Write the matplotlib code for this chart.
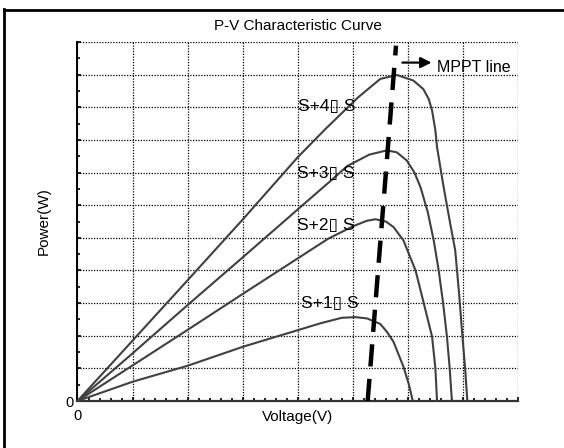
import matplotlib.pyplot as plt
from matplotlib.lines import Line2D
from matplotlib.ticker import MultipleLocator

plt.rcParams["font.family"] = ["Liberation Sans", "DejaVu Sans"]

# P-V curves for four irradiance steps (voltage / power in grid units)
v_s1 = [0, 1, 2, 3, 4, 4.41, 4.8, 5.05, 5.26, 5.5, 5.62, 5.74, 5.92, 6.02, 6.09]
p_s1 = [0, 0.59, 1.08, 1.66, 2.17, 2.38, 2.55, 2.57, 2.53, 2.36, 2.12, 1.81, 1.05, 0.5, 0]

v_s2 = [0, 1, 2, 3, 4, 4.55, 5.0, 5.25, 5.41, 5.6, 5.74, 5.92, 6.14, 6.29, 6.44, 6.5, 6.53]
p_s2 = [0, 1.09, 2.18, 3.28, 4.37, 4.97, 5.35, 5.52, 5.57, 5.5, 5.33, 4.92, 4.0, 2.99, 1.97, 1.0, 0]

v_s3 = [0, 1, 2, 3, 4.19, 4.6, 4.9, 5.3, 5.62, 5.8, 5.98, 6.12, 6.23, 6.36, 6.47, 6.56, 6.64, 6.71, 6.76, 6.8]
p_s3 = [0, 1.46, 2.94, 4.4, 6.15, 6.75, 7.2, 7.55, 7.68, 7.62, 7.37, 7.0, 6.55, 5.8, 4.92, 4.0, 3.0, 1.97, 1.0, 0]

v_s4 = [0, 1, 2, 3, 4, 4.5, 5.1, 5.5, 5.8, 6.1, 6.28, 6.38, 6.44, 6.5, 6.53, 6.65, 6.77, 6.86, 6.93, 6.99, 7.04, 7.08]
p_s4 = [0, 1.85, 3.7, 5.56, 7.47, 8.33, 9.31, 9.87, 9.99, 9.82, 9.56, 9.25, 8.9, 8.29, 7.78, 6.55, 5.43, 4.62, 3.3, 2.0, 1.0, 0]

curve_labels = ["S+1\u25af S", "S+2\u25af S", "S+3\u25af S", "S+4\u25af S"]
label_x = [4.06, 3.99, 3.99, 4.0]
label_y = [2.99, 5.38, 6.96, 9.02]

# MPPT line end points
mppt_v = [5.27, 5.785]
mppt_p = [0, 10.89]

fig = plt.figure(figsize=(5.64, 4.48), dpi=100)
ax = fig.add_axes([0.1374, 0.1049, 0.781, 0.8013])

for v, p in [(v_s1, p_s1), (v_s2, p_s2), (v_s3, p_s3), (v_s4, p_s4)]:
    ax.plot(v, p, color="#404040", lw=1.5, zorder=3, solid_joinstyle="round")

for txt, x, y in zip(curve_labels, label_x, label_y):
    ax.text(x, y, txt, fontsize=12.5, va="center", ha="left", zorder=4)

ax.plot(mppt_v, mppt_p, color="black", lw=3.2, dashes=(5, 2.8), zorder=5)

ax.annotate("", xy=(6.43, 10.37), xytext=(5.9, 10.37),
            arrowprops=dict(arrowstyle="-|>", color="black", lw=1.6,
                            mutation_scale=16, shrinkA=0, shrinkB=0))
ax.text(6.53, 10.22, "MPPT line", fontsize=11.5, va="center", ha="left")

ax.set_xlim(0, 8)
ax.set_ylim(0, 11)
ax.xaxis.set_major_locator(MultipleLocator(1))
ax.xaxis.set_minor_locator(MultipleLocator(0.2))
ax.yaxis.set_major_locator(MultipleLocator(1))
ax.yaxis.set_minor_locator(MultipleLocator(0.5))
ax.xaxis.set_major_formatter(plt.FuncFormatter(lambda val, pos: "0" if val == 0 else ""))
ax.yaxis.set_major_formatter(plt.FuncFormatter(lambda val, pos: "0" if val == 0 else ""))
ax.tick_params(which="both", direction="in", labelsize=10.5, width=1.2)
ax.tick_params(which="major", length=3)
ax.tick_params(which="minor", length=2.5)
ax.tick_params(axis="x", pad=6)
ax.tick_params(axis="y", pad=3)

ax.grid(True, which="major", color="black", linestyle=(0, (1, 1.2)), lw=0.9)
ax.spines["top"].set_visible(False)
ax.spines["right"].set_visible(False)
ax.spines["left"].set_linewidth(1.4)
ax.spines["bottom"].set_linewidth(1.6)
ax.spines["bottom"].set_color("#333333")

ax.set_title("P-V Characteristic Curve", fontsize=11, pad=9)
ax.set_xlabel("Voltage(V)", fontsize=11)
ax.xaxis.set_label_coords(0.5, -0.026)
ax.set_ylabel("Power(W)", fontsize=11, labelpad=10)

# frame lines along the top and left of the figure
fig.add_artist(Line2D([4.3 / 564, 4.3 / 564], [0, 1 - 9 / 448], color="black", lw=2, transform=fig.transFigure))
fig.add_artist(Line2D([4.3 / 564, 1], [1 - 10 / 448, 1 - 10 / 448], color="black", lw=2, transform=fig.transFigure))

fig.savefig("out.png", dpi=100)
